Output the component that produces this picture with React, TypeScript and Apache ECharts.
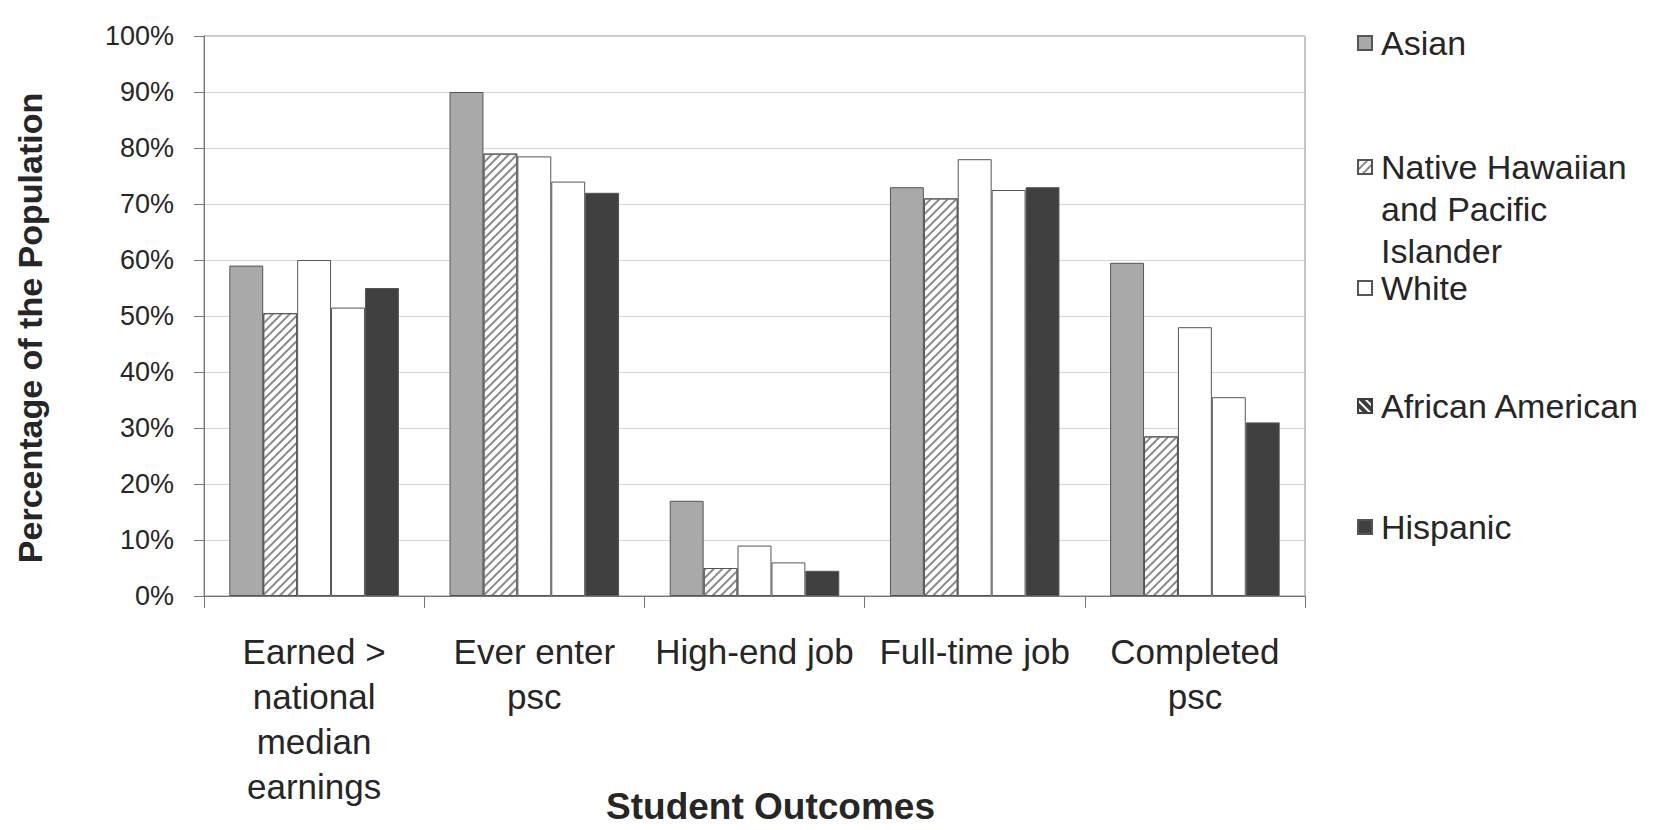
import React, { useEffect, useRef } from "react";
import * as echarts from "echarts";

// Outcome categories along the x axis
const categories = [
  "Earned >\nnational\nmedian\nearnings",
  "Ever enter\npsc",
  "High-end job",
  "Full-time job",
  "Completed\npsc",
];

// Percentage of each population group reaching the outcome
const asian = [59, 90, 17, 73, 59.5];
const hawaiian = [50.5, 79, 5, 71, 28.5];
const white = [60, 78.5, 9, 78, 48];
const african = [51.5, 74, 6, 72.5, 35.5];
const hispanic = [55, 72, 4.5, 73, 31];

const seriesNames = [
  "Asian",
  "Native Hawaiian and Pacific Islander",
  "White",
  "African American",
  "Hispanic",
];

const yMin = 0;
const yMax = 100;
const yStep = 10;

const FONT = "'Liberation Sans', Arial, Helvetica, sans-serif";
const TEXT = "#262626";
const EDGE = "#555555";

const hatch = (color: string, rotation: number) => ({
  symbol: "rect",
  symbolSize: 1,
  dashArrayX: [1, 0],
  dashArrayY: [2, 4],
  rotation,
  color,
});

export default function App() {
  const ref = useRef<HTMLDivElement>(null);

  useEffect(() => {
    if (!ref.current) return;
    const chart = echarts.init(ref.current, null, { renderer: "svg" });

    const barStyle = (color: string, decal?: any) => ({
      color,
      borderColor: EDGE,
      borderWidth: 1,
      ...(decal ? { decal } : {}),
    });

    const values = [asian, hawaiian, white, african, hispanic];
    const styles = [
      barStyle("#a9a9a9"),
      barStyle("#ffffff", hatch("#8a8a8a", -Math.PI / 4)),
      barStyle("#ffffff"),
      barStyle("#ffffff"),
      barStyle("#404040"),
    ];

    const legendBase = {
      orient: "vertical",
      left: 1357,
      padding: 0,
      itemWidth: 14,
      itemHeight: 14,
      itemGap: 0,
      icon: "rect",
      selectedMode: false,
      textStyle: {
        fontFamily: FONT,
        fontSize: 34,
        lineHeight: 42,
        color: TEXT,
        padding: [0, 0, 0, 4],
      },
    };

    chart.setOption({
      animation: false,
      backgroundColor: "#ffffff",
      textStyle: { fontFamily: FONT },
      grid: {
        left: 204,
        right: 366,
        top: 36,
        bottom: 234,
        outerBoundsMode: "none",
        containLabel: false,
        show: true,
        borderColor: "#8a8a8a",
        borderWidth: 1,
        backgroundColor: "transparent",
      },
      legend: [
        { ...legendBase, top: 22, data: [{ name: seriesNames[0] }] },
        {
          ...legendBase,
          top: 62,
          data: [{ name: seriesNames[1] }],
          // two blank lines keep the icon level with the first line
          formatter: () => "\n\nNative Hawaiian\nand Pacific\nIslander",
        },
        { ...legendBase, top: 267, data: [{ name: seriesNames[2] }] },
        {
          ...legendBase,
          top: 385,
          data: [
            {
              name: seriesNames[3],
              itemStyle: {
                color: "#3c3c3c",
                borderColor: "#3c3c3c",
                decal: hatch("#ffffff", Math.PI / 4),
              },
            },
          ],
        },
        { ...legendBase, top: 506, data: [{ name: seriesNames[4] }] },
      ],
      xAxis: {
        type: "category",
        data: categories,
        name: "Student Outcomes",
        nameLocation: "middle",
        nameGap: 193,
        nameMoveOverlap: false,
        nameTextStyle: {
          fontFamily: FONT,
          fontSize: 37,
          lineHeight: 34,
          fontWeight: "bold",
          color: TEXT,
          padding: [0, 0, 0, 32],
        },
        axisLine: { show: true, lineStyle: { color: "#777777", width: 1 } },
        axisTick: { show: true, length: 12, lineStyle: { color: "#777777" } },
        axisLabel: {
          interval: 0,
          margin: 33,
          fontFamily: FONT,
          fontSize: 35,
          lineHeight: 45,
          color: TEXT,
        },
        splitLine: { show: false },
      },
      yAxis: {
        type: "value",
        min: yMin,
        max: yMax,
        interval: yStep,
        name: "Percentage of the Population",
        nameLocation: "middle",
        nameGap: 157,
        nameRotate: 90,
        nameTextStyle: {
          fontFamily: FONT,
          fontSize: 34,
          fontWeight: "bold",
          color: TEXT,
          padding: [0, 24, 0, 0],
        },
        axisLine: { show: true, lineStyle: { color: "#777777", width: 1 } },
        axisTick: { show: true, length: 10, lineStyle: { color: "#777777" } },
        axisLabel: {
          formatter: "{value}%",
          margin: 30,
          fontFamily: FONT,
          fontSize: 27,
          color: TEXT,
        },
        splitLine: { show: true, lineStyle: { color: "#d4d4d4", width: 1 } },
      },
      series: seriesNames.map((name, i) => ({
        name,
        type: "bar",
        data: values[i],
        barGap: "0%",
        barCategoryGap: "23%",
        itemStyle: styles[i],
        emphasis: { disabled: true },
      })),
    });

    return () => chart.dispose();
  }, []);

  return (
    <div
      ref={ref}
      style={{ width: 1671, height: 830, position: "absolute", left: 0, top: 0 }}
    />
  );
}
